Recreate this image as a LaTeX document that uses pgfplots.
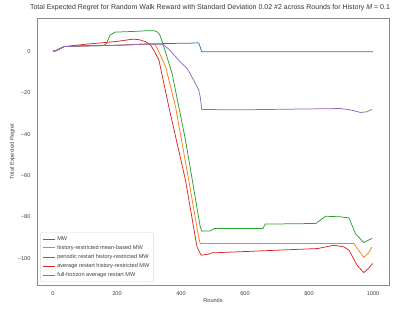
\documentclass[border=0pt]{standalone}
\usepackage{pgfplots}
\pgfplotsset{compat=1.18}
\usepackage{fontspec}
\setmainfont{Liberation Sans}
\definecolor{c1}{HTML}{1F77B4}
\definecolor{c2}{HTML}{FF7F0E}
\definecolor{c3}{HTML}{2CA02C}
\definecolor{c4}{HTML}{D62728}
\definecolor{c5}{HTML}{9467BD}
\begin{document}
\begin{tikzpicture}
\useasboundingbox (-37pt,-23pt) rectangle (356pt,285pt);
\begin{axis}[
  at={(0,0)}, anchor=south west,
  scale only axis, width=352pt, height=267pt,
  xmin=-50, xmax=1050, ymin=-112.8, ymax=16.1,
  axis line style={draw=black!45, line width=0.7pt},
  major tick length=0pt,
  xtick={0,200,400,600,800,1000},
  xticklabels={0,200,400,600,800,1000},
  ytick={-100,-80,-60,-40,-20,0},
  yticklabels={−100,−80,−60,−40,−20,0},
  /pgf/number format/assume math mode=true,
  tick label style={font=\fontsize{5.6}{6}\selectfont, text=black!75},
  xticklabel style={yshift=-3pt},
  yticklabel style={xshift=-3pt},
  xlabel={Rounds}, ylabel={Total Expected Regret},
  label style={font=\fontsize{5.6}{6}\selectfont, text=black!75},
  xlabel style={yshift=4pt},
  ylabel style={yshift=-4pt},
  title={Total Expected Regret for Random Walk Reward with Standard Deviation 0.02 \#2 across Rounds for History \textit{M} = 0.1},
  title style={font=\fontsize{7.0}{7.5}\selectfont, text=black!80, yshift=-2pt, xshift=-3pt},
  legend style={font=\fontsize{5.6}{6.8}\selectfont, text=black!75, draw=black!15, rounded corners=2pt, fill=white, fill opacity=0.85, text opacity=1, at={(0.009,0.011)}, anchor=south west, inner xsep=2pt, inner ysep=2pt, row sep=-0.5pt},
  legend cell align=left,
  legend image post style={line width=0.9pt},
  legend image code/.code={\draw[#1] (0pt,0pt) -- (12pt,0pt);},
  every axis plot/.append style={line width=0.75pt},
]
\addplot[c1] coordinates {(0,0) (10,0.4) (35,2.3) (100,2.6) (200,2.9) (300,3.6) (400,3.9) (445,4.0) (452,4.2) (456,3.9) (465,-0.2) (1000,-0.2)};
\addlegendentry{MW}
\addplot[c2] coordinates {(0,0) (10,0.4) (35,2.3) (100,2.6) (200,2.9) (300,3.6) (315,3.5) (320,3.0) (326,1.4) (352,-7.4) (383,-26.8) (424,-62) (455,-89.6) (460,-92.8) (940,-92.8) (955,-96) (971,-99.5) (985,-97.5) (997,-94.4)};
\addlegendentry{history-restricted mean-based MW}
\addplot[c3] coordinates {(0,0) (10,0.4) (35,2.3) (100,2.7) (160,3.0) (168,4) (178,7.8) (195,9.3) (250,9.6) (300,10) (316,10) (326,9.4) (334,7.9) (348,1.4) (372,-10.6) (414,-42.8) (460,-84.7) (465,-86.8) (491,-86.7) (505,-85.5) (656,-85.5) (663,-83.4) (821,-83.1) (852,-79.6) (899,-79.9) (925,-80.4) (945,-88) (971,-92.3) (981,-91.5) (997,-90.3)};
\addlegendentry{periodic restart history-restricted MW}
\addplot[c4] coordinates {(0,0) (10,0.4) (35,2.3) (100,3.4) (150,4.1) (200,4.8) (250,5.9) (270,5.6) (290,4.6) (305,3.0) (315,0.5) (331,-4.2) (362,-26.8) (414,-62.2) (450,-94.4) (463,-98.4) (486,-97.9) (496,-97.3) (827,-95.2) (878,-93.6) (909,-94.4) (925,-96) (950,-103.2) (971,-106.8) (986,-104.8) (999,-102.4)};
\addlegendentry{average restart history-restricted MW}
\addplot[c5] coordinates {(0,0) (10,0.3) (35,2.3) (100,2.6) (200,3.0) (300,3.5) (340,3.4) (347,3.0) (365,0.6) (383,-2.6) (400,-5.5) (414,-7.4) (424,-9.5) (445,-15.5) (455,-18.5) (460,-21.9) (465,-28.1) (600,-28.2) (850,-27.7) (899,-27.6) (930,-28.3) (961,-29.5) (980,-29.2) (997,-28.0)};
\addlegendentry{full-horizon average restart MW}
\end{axis}
\end{tikzpicture}
\end{document}
